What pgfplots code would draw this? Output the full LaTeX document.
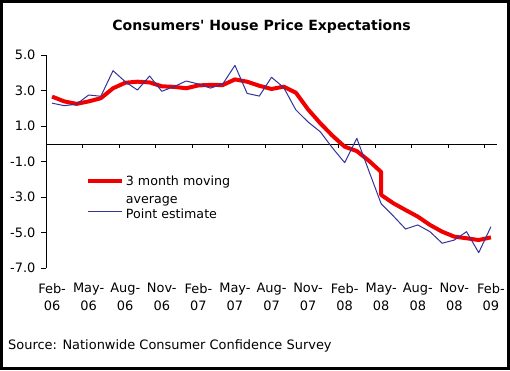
\documentclass[border=0pt]{standalone}
\usepackage{pgfplots}
\pgfplotsset{compat=1.18}
\usepackage{fontspec}
\setmainfont{DejaVu Sans}
\newfontfamily\titlefont{DejaVu Sans}
\definecolor{maredd}{RGB}{240,0,0}
\definecolor{ptblue}{RGB}{51,51,153}
\pgfplotsset{
  redleg/.style={legend image code/.code={\draw[##1] (0bp,6bp+0.35em) -- (34bp,6bp+0.35em);}},
}
\pgfplotstableread{
x y
0 2.67
1 2.40
2 2.26
3 2.40
4 2.58
5 3.14
6 3.45
7 3.51
8 3.47
9 3.25
10 3.22
11 3.14
12 3.30
13 3.33
14 3.32
15 3.64
16 3.51
17 3.28
18 3.10
19 3.23
20 2.89
21 1.95
22 1.17
23 0.47
24 -0.15
25 -0.40
26 -0.95
27 -1.58
27 -2.87
28 -3.34
29 -3.72
30 -4.09
31 -4.56
32 -4.94
33 -5.22
34 -5.31
35 -5.41
36 -5.26
}\mavg
\pgfplotstableread{
x y
0 2.30
1 2.16
2 2.24
3 2.76
4 2.69
5 4.13
6 3.51
7 3.04
8 3.83
9 2.97
10 3.23
11 3.55
12 3.38
13 3.15
14 3.38
15 4.43
16 2.85
17 2.70
18 3.76
19 3.18
20 1.92
21 1.24
22 0.69
23 -0.22
24 -1.05
25 0.32
26 -1.54
27 -3.37
28 -4.06
29 -4.79
30 -4.56
31 -4.94
32 -5.59
33 -5.41
34 -4.94
35 -6.12
36 -4.66
}\ptest
\begin{document}
\begin{tikzpicture}[x=1bp,y=1bp]
\path[use as bounding box] (0,0) rectangle (510,370);
\fill[white] (0,0) rectangle (510,370);
\draw[line width=3bp] (1.5,1.5) rectangle (508.5,368.5);
\node[anchor=base, font=\titlefont\bfseries\fontsize{14.1}{16}\selectfont] at (261.5,340) {Consumers' House Price Expectations};
\node[anchor=base west, font=\fontsize{13}{15}\selectfont, inner sep=0pt] at (8,20.7) {Source: Nationwide Consumer Confidence Survey};
\begin{axis}[
  at={(46bp,101.75bp)}, anchor=south west,
  scale only axis, width=451bp, height=213bp,
  xmin=-0.5, xmax=36.5, ymin=-7, ymax=5,
  axis lines*=left,
  x axis line style={draw=none},
  y axis line style={line width=0.8bp},
  xtick={0,3,...,36},
  xticklabels={{Feb-\\06},{May-\\06},{Aug-\\06},{Nov-\\06},{Feb-\\07},{May-\\07},{Aug-\\07},{Nov-\\07},{Feb-\\08},{May-\\08},{Aug-\\08},{Nov-\\08},{Feb-\\09}},
  xticklabel style={align=center, font=\fontsize{13}{17.7}\selectfont, inner sep=0pt, yshift=-10bp},
  xtick style={draw=none},
  ytick={-7,-5,...,5},
  yticklabel style={font=\fontsize{13}{15}\selectfont, xshift=-2bp, /pgf/number format/.cd, fixed, fixed zerofill, precision=1, assume math mode=true},
  ytick style={black, line width=0.8bp},
  tick align=outside,
  major tick length=5bp,
  legend style={at={(0.088,0.445)}, anchor=north west, draw=none, fill=none, inner sep=0pt,
    font=\fontsize{12.7}{18}\selectfont, row sep=0.5bp,
    /tikz/every even column/.append style={column sep=0bp}},
  legend cell align=left,
  legend image code/.code={\draw[#1] (0bp,0.35em) -- (34bp,0.35em);},
  clip=false,
]
\draw[black, line width=0.8bp] (axis cs:-0.5,0) -- (axis cs:36.5,0);
\draw[black, line width=0.8bp] (axis cs:2.5,0) -- ([yshift=-4bp]axis cs:2.5,0);
\draw[black, line width=0.8bp] (axis cs:5.5,0) -- ([yshift=-4bp]axis cs:5.5,0);
\draw[black, line width=0.8bp] (axis cs:8.5,0) -- ([yshift=-4bp]axis cs:8.5,0);
\draw[black, line width=0.8bp] (axis cs:11.5,0) -- ([yshift=-4bp]axis cs:11.5,0);
\draw[black, line width=0.8bp] (axis cs:14.5,0) -- ([yshift=-4bp]axis cs:14.5,0);
\draw[black, line width=0.8bp] (axis cs:17.5,0) -- ([yshift=-4bp]axis cs:17.5,0);
\draw[black, line width=0.8bp] (axis cs:20.5,0) -- ([yshift=-4bp]axis cs:20.5,0);
\draw[black, line width=0.8bp] (axis cs:23.5,0) -- ([yshift=-4bp]axis cs:23.5,0);
\draw[black, line width=0.8bp] (axis cs:26.5,0) -- ([yshift=-4bp]axis cs:26.5,0);
\draw[black, line width=0.8bp] (axis cs:29.5,0) -- ([yshift=-4bp]axis cs:29.5,0);
\draw[black, line width=0.8bp] (axis cs:32.5,0) -- ([yshift=-4bp]axis cs:32.5,0);
\draw[black, line width=0.8bp] (axis cs:35.5,0) -- ([yshift=-4bp]axis cs:35.5,0);
\addplot[maredd, line width=4bp, line join=round, no markers, redleg] table[x=x,y=y] {\mavg};
\addlegendentry{\parbox[b]{4cm}{3 month moving\\average}}
\addplot[ptblue, line width=1bp, line join=round, no markers] table[x=x,y=y] {\ptest};
\addlegendentry{Point estimate}
\end{axis}
\end{tikzpicture}
\end{document}
